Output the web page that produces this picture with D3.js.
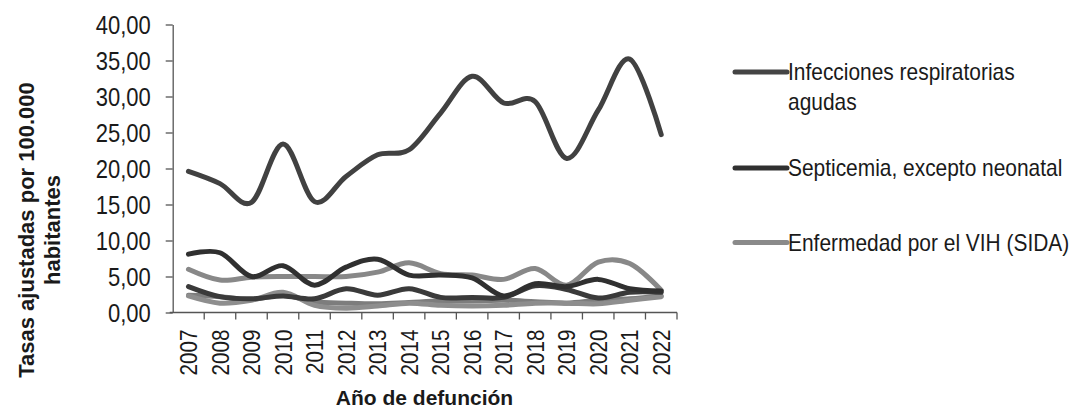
<!DOCTYPE html>
<html>
<head>
<meta charset="utf-8">
<script src="https://cdn.jsdelivr.net/npm/d3@7"></script>
<style>
  html, body { margin: 0; padding: 0; background: #fff; }
  svg { display: block; }
  text { font-family: "Liberation Sans Narrow", "Arial Narrow", "Liberation Sans", Arial, sans-serif; fill: #1a1a1a; }
</style>
</head>
<body>
<svg id="chart" width="1079" height="409"></svg>
<script>
// ---- data ----
const years = ["2007","2008","2009","2010","2011","2012","2013","2014","2015","2016","2017","2018","2019","2020","2021","2022"];
const yTicks = [0, 5, 10, 15, 20, 25, 30, 35, 40];

const infeccionesResp = [19.6, 17.9, 15.3, 23.4, 15.4, 18.9, 21.9, 22.6, 27.7, 32.8, 29.1, 29.3, 21.4, 28.1, 35.2, 24.7];
const septicemia      = [8.1, 8.3, 5.0, 6.5, 3.8, 6.3, 7.4, 5.2, 5.2, 4.8, 2.3, 4.0, 3.6, 4.6, 3.3, 3.0];
const vihSida         = [6.0, 4.5, 4.9, 5.0, 5.0, 5.0, 5.6, 6.9, 5.4, 5.2, 4.6, 6.1, 3.8, 7.0, 6.8, 3.1];
const otraCausa1      = [3.6, 2.2, 1.9, 2.3, 1.9, 3.3, 2.4, 3.3, 2.1, 2.1, 2.1, 3.7, 3.2, 2.0, 2.8, 2.8];
const otraCausa2      = [2.3, 1.3, 1.7, 2.8, 1.0, 0.6, 0.9, 1.3, 1.0, 0.9, 1.0, 1.3, 1.3, 1.2, 1.7, 2.2];
const otraCausa3      = [2.4, 2.2, 1.8, 2.4, 1.5, 1.3, 1.2, 1.4, 1.6, 1.6, 1.7, 1.5, 1.3, 1.7, 1.9, 2.3];

const series = [
  { name: "Otra causa 3", values: otraCausa3, color: "#7d7d7d" },
  { name: "Otra causa 2", values: otraCausa2, color: "#8e8e8e" },
  { name: "Otra causa 1", values: otraCausa1, color: "#3a3a3a" },
  { name: "Enfermedad por el VIH (SIDA)", values: vihSida, color: "#888888" },
  { name: "Septicemia, excepto neonatal", values: septicemia, color: "#303030" },
  { name: "Infecciones respiratorias agudas", values: infeccionesResp, color: "#414141" }
];
const legendItems = [
  { lines: ["Infecciones respiratorias", "agudas"], color: "#444444" },
  { lines: ["Septicemia, excepto neonatal"], color: "#303030" },
  { lines: ["Enfermedad por el VIH (SIDA)"], color: "#8a8a8a" }
];

// ---- layout ----
const svg = d3.select("#chart");
const plot = { left: 172.7, right: 677, top: 24.5, bottom: 312.5 };

const x = d3.scaleBand().domain(years).range([plot.left, plot.right]).paddingInner(0).paddingOuter(0);
const y = d3.scaleLinear().domain([0, 40]).range([plot.bottom, plot.top]);

// y axis
const yAxis = d3.axisLeft(y).tickValues(yTicks).tickSize(7).tickSizeOuter(0)
  .tickFormat(d => d3.format(".2f")(d).replace(".", ","));
const gy = svg.append("g").attr("transform", `translate(${plot.left},0)`).call(yAxis);
gy.select(".domain").attr("stroke", "#555").attr("stroke-width", 1.3);
gy.selectAll(".tick line").attr("stroke", "#555").attr("stroke-width", 1.3);
gy.selectAll(".tick text")
  .attr("x", 0).attr("dy", "0.36em")
  .attr("transform", "translate(-22,0) scale(0.88,1)")
  .attr("font-size", 25).attr("fill", "#1a1a1a");

// x axis
const xAxis = d3.axisBottom(x).tickSize(0).tickSizeOuter(0);
const gx = svg.append("g").attr("transform", `translate(0,${plot.bottom})`).call(xAxis);
gx.select(".domain").remove();
gx.append("line").attr("x1", plot.left - 3).attr("x2", plot.right).attr("y1", 0).attr("y2", 0)
  .attr("stroke", "#555").attr("stroke-width", 1.3);
const bounds = years.map(d => x(d)).concat([plot.right]);
gx.selectAll(".bt").data(bounds.slice(1)).enter().append("line")
  .attr("x1", d => d).attr("x2", d => d).attr("y1", 0).attr("y2", 7)
  .attr("stroke", "#555").attr("stroke-width", 1.3);
gx.selectAll(".tick text")
  .attr("transform", "rotate(-90) translate(-17,0) scale(0.86,1)")
  .attr("text-anchor", "end")
  .attr("x", 0).attr("y", 0).attr("dy", "0.36em")
  .attr("font-size", 24).attr("fill", "#1a1a1a");

// lines
const line = d3.line()
  .x((d, i) => x(years[i]) + x.bandwidth() / 2)
  .y(d => y(d))
  .curve(d3.curveCatmullRom.alpha(0));

svg.append("g").selectAll("path").data(series).enter().append("path")
  .attr("d", d => line(d.values))
  .attr("fill", "none")
  .attr("stroke", d => d.color)
  .attr("stroke-width", 5)
  .attr("stroke-linejoin", "round")
  .attr("stroke-linecap", "round");

// axis titles
svg.append("text")
  .attr("transform", "translate(26,230) rotate(-90)")
  .attr("text-anchor", "middle").attr("dy", "0.35em")
  .attr("font-size", 22).attr("font-weight", "bold")
  .text("Tasas ajustadas por 100.000");
svg.append("text")
  .attr("transform", "translate(52,230) rotate(-90)")
  .attr("text-anchor", "middle").attr("dy", "0.35em")
  .attr("font-size", 22).attr("font-weight", "bold")
  .text("habitantes");
svg.append("text")
  .attr("x", 424.5).attr("y", 405)
  .attr("text-anchor", "middle")
  .attr("font-size", 21).attr("font-weight", "bold")
  .text("Año de defunción");

// legend
const legendY = [72, 168, 242.5];
const lg = svg.append("g");
legendItems.forEach((it, i) => {
  const g = lg.append("g").attr("transform", `translate(735,${legendY[i]})`);
  g.append("line").attr("x1", 0).attr("x2", 52).attr("y1", 0).attr("y2", 0)
    .attr("stroke", it.color).attr("stroke-width", 5).attr("stroke-linecap", "round");
  it.lines.forEach((t, j) => {
    g.append("text")
      .attr("transform", `translate(53,${j * 30}) scale(0.91,1)`)
      .attr("dy", "0.36em")
      .attr("font-size", 23).text(t);
  });
});
</script>
</body>
</html>
